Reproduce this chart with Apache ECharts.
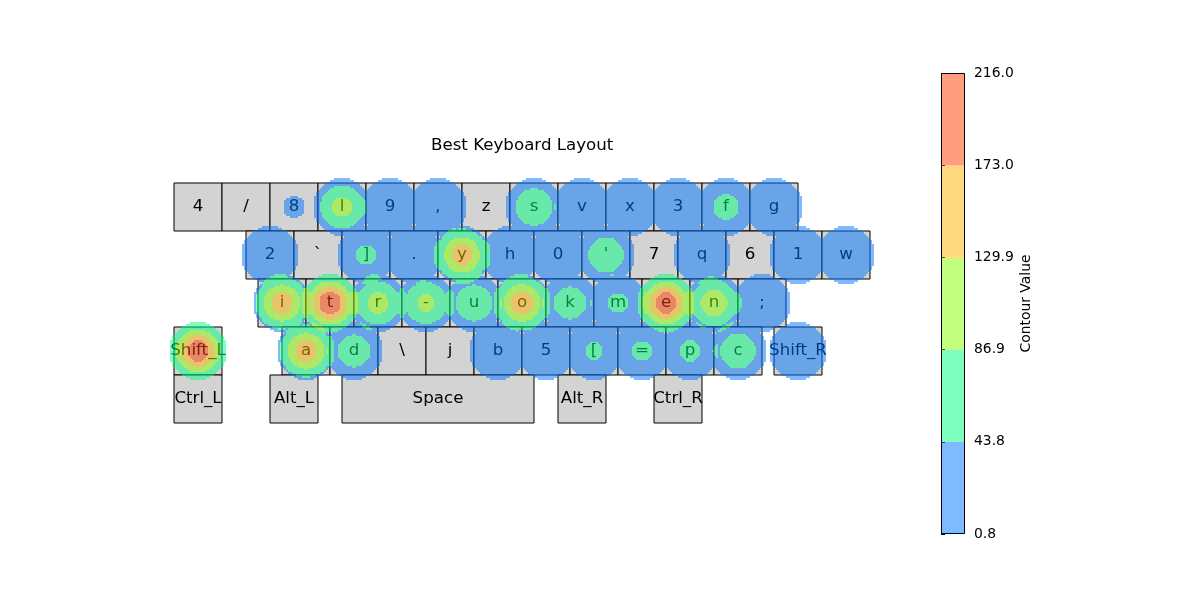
<!DOCTYPE html>
<html><head><meta charset="utf-8">
<script src="https://cdn.jsdelivr.net/npm/echarts@6/dist/echarts.min.js"></script>
<style>html,body{margin:0;padding:0;background:#fff}#c{width:1200px;height:600px}</style>
</head><body><div id="c"></div>
<script>
// ---- key labels per row ----
const row1Keys = ['4','/','8','l','9',',','z','s','v','x','3','f','g'];
const row2Keys = ['2','`',']','.','y','h','0',"'",'7','q','6','1','w'];
const row3Keys = ['i','t','r','-','u','o','k','m','e','n',';'];
const row4Keys = ['a','d','\\','j','b','5','[','=','p','c'];
const modKeys  = ['Shift_L','Shift_R','Ctrl_L','Alt_L','Space','Alt_R','Ctrl_R'];

// ---- layout in key units ----
const rowStarts = [0, 1.5, 1.75, 2.25];
const modRows   = [3, 3, 4, 4, 4, 4, 4];
const modCols   = [0, 12.5, 0, 2, 3.5, 8, 10];
const modWidths = [1, 1, 1, 1, 4, 1, 1];

// ---- peak contour value per key ----
const heatKeys   = ['Shift_L','t','e','i','o','a','y','n','r','l','-','u','s',"'",'c','d','k','f','m','p','=',']','[',
                    '9',',','v','x','3','g','2','.','h','0','q','1','w',';','b','5','Shift_R','8'];
const heatValues = [214, 216, 214, 162, 165, 162, 160, 122, 108, 105, 100, 82, 84, 78, 78, 72, 72, 60, 53, 54, 53, 53, 51,
                    28, 25, 32, 22, 35, 26, 30, 24, 38, 27, 33, 25, 29, 36, 34, 20, 18, 1.0];

// ---- contour levels / colorbar ----
const levels      = [0.8, 43.84, 86.88, 129.92, 172.96, 216.0];
const levelLabels = ['0.8', '43.8', '86.9', '129.9', '173.0', '216.0'];
const bandColors  = ['rgb(0,118,255)', 'rgb(0,255,128)', 'rgb(136,255,0)', 'rgb(255,180,0)', 'rgb(255,62,0)'];

// smoothing kernel (key units): gaussian spread, truncated at a radius
const kernelSigma = 0.339;
const kernelCut = 0.604;

// build key list
const keyList = [];
[row1Keys, row2Keys, row3Keys, row4Keys].forEach((row, r) => {
  row.forEach((k, i) => keyList.push({label: k, x: rowStarts[r] + i, y: r, w: 1}));
});
modKeys.forEach((k, i) => keyList.push({label: k, x: modCols[i], y: modRows[i], w: modWidths[i]}));
const keyPos = {};
keyList.forEach(k => { keyPos[k.label] = [k.x + k.w / 2, k.y + 0.5]; });

const FONT = '"DejaVu Sans", sans-serif';
const hiddenAxis = {axisLine: {show: false}, axisTick: {show: false}, axisLabel: {show: false}, splitLine: {show: false}};

const series = [];
series.push({
  type: 'custom', name: 'keys', xAxisIndex: 0, yAxisIndex: 0, z: 2,
  data: keyList.map(k => [k.x, k.y, k.x + k.w, k.y + 1]),
  encode: {x: [0, 2], y: [1, 3]},
  renderItem: (params, api) => {
    const p0 = api.coord([api.value(0), api.value(1)]);
    const p1 = api.coord([api.value(2), api.value(3)]);
    const k = keyList[params.dataIndex];
    return {type: 'group', children: [
      {type: 'rect', shape: {x: p0[0], y: p0[1], width: p1[0] - p0[0], height: p1[1] - p0[1]},
       style: {fill: '#d3d3d3', stroke: '#000', lineWidth: 1}},
      {type: 'text', style: {text: k.label, x: (p0[0] + p1[0]) / 2, y: (p0[1] + p1[1]) / 2,
        align: 'center', verticalAlign: 'middle', fill: '#000', font: '16.67px ' + FONT}}
    ]};
  }
});

// filled contours: each key paints the cells closest to it, coloured by the summed kernel field
series.push({
  type: 'custom', name: 'contour', xAxisIndex: 0, yAxisIndex: 0, z: 5, silent: true,
  data: heatKeys.map((k, i) => [keyPos[k][0], keyPos[k][1], heatValues[i]]),
  encode: {x: 0, y: 1},
  renderItem: (params, api) => {
    const unit = api.size([1, 1])[0];
    const Rc = kernelCut * unit, Rc2 = Rc * Rc;
    const s = kernelSigma * unit, s2 = 2 * s * s;
    const centers = heatKeys.map(k => api.coord(keyPos[k]));
    const idx = params.dataIndex;
    const me = centers[idx];
    const cell = 2;
    const children = [];
    const x0 = Math.floor((me[0] - Rc) / cell) * cell;
    const x1 = me[0] + Rc + cell;
    for (let y = Math.floor((me[1] - Rc) / cell) * cell; y < me[1] + Rc; y += cell) {
      let runStart = x0, runBand = -1;
      const flush = (xEnd) => {
        if (runBand >= 0 && xEnd > runStart) {
          children.push({type: 'rect', shape: {x: runStart, y: y, width: xEnd - runStart, height: cell},
            style: {fill: bandColors[runBand], opacity: 0.5}});
        }
      };
      for (let x = x0; x <= x1; x += cell) {
        const px = x + cell / 2, py = y + cell / 2;
        let band = -1;
        const dxm = px - me[0], dym = py - me[1];
        const dMe = dxm * dxm + dym * dym;
        if (dMe < Rc2) {
          let nearest = true, f = 0;
          for (let j = 0; j < centers.length; j++) {
            const dx = px - centers[j][0], dy = py - centers[j][1];
            const d2 = dx * dx + dy * dy;
            if (j !== idx && (d2 < dMe || (d2 === dMe && j < idx))) { nearest = false; break; }
            if (d2 < Rc2) f += heatValues[j] * Math.exp(-d2 / s2);
          }
          if (nearest) {
            for (let b = levels.length - 2; b >= 0; b--) {
              if (f >= levels[b]) { band = b; break; }
            }
          }
        }
        if (band !== runBand) { flush(x); runStart = x; runBand = band; }
      }
      flush(x1 + cell);
    }
    return {type: 'group', children: children};
  }
});

// colorbar bands
series.push({
  type: 'custom', name: 'colorbar', xAxisIndex: 1, yAxisIndex: 1, silent: true, z: 2,
  data: bandColors.map((c, i) => [0, levels[i], 1, levels[i + 1]]),
  encode: {x: [0, 2], y: [1, 3]},
  renderItem: (params, api) => {
    const p0 = api.coord([api.value(0), api.value(1)]);
    const p1 = api.coord([api.value(2), api.value(3)]);
    return {type: 'rect', shape: {x: p0[0], y: p1[1], width: p1[0] - p0[0], height: p0[1] - p1[1]},
      style: {fill: bandColors[params.dataIndex], opacity: 0.5}};
  }
});
// colorbar frame
series.push({
  type: 'custom', name: 'colorbarFrame', xAxisIndex: 1, yAxisIndex: 1, silent: true, z: 3,
  data: [[0, levels[0], 1, levels[levels.length - 1]]],
  encode: {x: [0, 2], y: [1, 3]},
  renderItem: (params, api) => {
    const p0 = api.coord([api.value(0), api.value(1)]);
    const p1 = api.coord([api.value(2), api.value(3)]);
    return {type: 'rect', shape: {x: p0[0] + 0.5, y: p1[1] + 0.5, width: p1[0] - p0[0] - 1, height: p0[1] - p1[1] - 1},
      style: {fill: 'none', stroke: '#000', lineWidth: 1}};
  }
});

const chart = echarts.init(document.getElementById('c'), null, {renderer: 'canvas'});
chart.setOption({
  animation: false,
  backgroundColor: '#fff',
  textStyle: {fontFamily: FONT},
  title: {text: 'Best Keyboard Layout', left: 431, top: 137, padding: 0,
    textStyle: {fontSize: 16.67, fontWeight: 'normal', color: '#000', fontFamily: FONT}},
  grid: [
    {left: 174, top: 183, width: 696, height: 240},
    {left: 941, top: 73, width: 24, height: 461}
  ],
  xAxis: [
    Object.assign({type: 'value', gridIndex: 0, min: 0, max: 14.5, show: false}, hiddenAxis),
    Object.assign({type: 'value', gridIndex: 1, min: 0, max: 1, show: false}, hiddenAxis)
  ],
  yAxis: [
    Object.assign({type: 'value', gridIndex: 0, min: 0, max: 5, inverse: true, show: false}, hiddenAxis),
    {type: 'value', gridIndex: 1, min: 0.8, max: 216, interval: 43.04, position: 'right',
     axisLine: {show: false},
     axisTick: {show: true, length: 4, lineStyle: {color: '#000', width: 1}, customValues: levels},
     axisLabel: {show: true, margin: 9, color: '#000', fontSize: 13.9, fontFamily: FONT, customValues: levels,
       formatter: v => { let best = 0; levels.forEach((l, i) => { if (Math.abs(l - v) < Math.abs(levels[best] - v)) best = i; }); return levelLabels[best]; }},
     splitLine: {show: false},
     name: 'Contour Value', nameLocation: 'middle', nameRotate: 90, nameGap: 54,
     nameTextStyle: {color: '#000', fontSize: 13.9, fontFamily: FONT}}
  ],
  series: series
});
</script></body></html>
